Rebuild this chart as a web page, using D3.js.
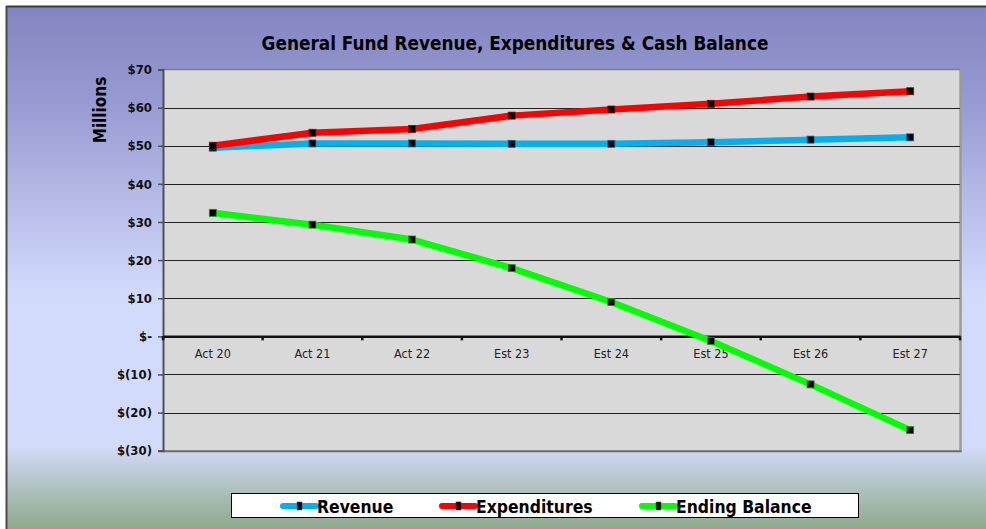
<!DOCTYPE html>
<html><head><meta charset="utf-8">
<script src="https://cdn.jsdelivr.net/npm/d3@7"></script>
<style>html,body{margin:0;padding:0;background:#fff;}svg{display:block;}</style>
</head><body>
<script>
const categories = ["Act 20","Act 21","Act 22","Est 23","Est 24","Est 25","Est 26","Est 27"];
const revenue = [49.5, 50.6, 50.6, 50.5, 50.5, 50.9, 51.6, 52.2];
const expenditures = [50.0, 53.4, 54.4, 57.9, 59.5, 61.0, 62.9, 64.3];
const endingBalance = [32.4, 29.3, 25.4, 17.9, 9.0, -1.2, -12.6, -24.6];
const yTicks = [70, 60, 50, 40, 30, 20, 10, 0, -10, -20, -30];
const seriesNames = ["Revenue", "Expenditures", "Ending Balance"];
const seriesColors = ["#00b0f0", "#ff0000", "#00ff00"];

(function(){
const W = 986, H = 529;
const font = "'DejaVu Sans Condensed', 'DejaVu Sans', sans-serif";
const svg = d3.select("body").append("svg").attr("width", W).attr("height", H);

const defs = svg.append("defs");
const grad = defs.append("linearGradient").attr("id","bg").attr("x1",0).attr("y1",0).attr("x2",0).attr("y2",1);
[[0,"#8385c1"],[0.18,"#9799d1"],[0.55,"#d2dafb"],[0.84,"#d3dbfb"],[1,"#8ea98b"]].forEach(s=>
  grad.append("stop").attr("offset",s[0]).attr("stop-color",s[1]));

svg.append("rect").attr("x",6).attr("y",6).attr("width",W-6).attr("height",H-6).attr("fill","url(#bg)");
svg.append("line").attr("x1",6).attr("x2",W).attr("y1",6.5).attr("y2",6.5).attr("stroke","#3a3a44").attr("stroke-width",2);
svg.append("line").attr("x1",6.5).attr("x2",6.5).attr("y1",6).attr("y2",H).attr("stroke","#4a4a50").attr("stroke-width",2);

const pL = 163, pR = 960, pT = 69.5, pB = 450.7;
const x = d3.scaleBand().domain(categories).range([pL, pR]);
const y = d3.scaleLinear().domain([-30, 70]).range([pB, pT]);

svg.append("rect").attr("x",pL).attr("y",pT).attr("width",pR-pL).attr("height",pB-pT).attr("fill","#d9d9d9");
svg.append("line").attr("x1",pL).attr("x2",pR).attr("y1",pT).attr("y2",pT).attr("stroke","#808080").attr("stroke-width",1.5);
svg.append("line").attr("x1",pR+0.5).attr("x2",pR+0.5).attr("y1",pT).attr("y2",pB+1).attr("stroke","#9a9a9a").attr("stroke-width",2.5);
svg.append("line").attr("x1",pL).attr("x2",pR+1.5).attr("y1",pB+0.5).attr("y2",pB+0.5).attr("stroke","#6a6a6a").attr("stroke-width",2);

svg.append("g").selectAll("line").data(yTicks.filter(d=>d!==70 && d!==0 && d!==-30)).join("line")
  .attr("x1",pL).attr("x2",pR).attr("y1",d=>Math.round(y(d))+0.5).attr("y2",d=>Math.round(y(d))+0.5)
  .attr("stroke","#222").attr("stroke-width",1);

const fmt = d => d === 0 ? "$-" : (d < 0 ? "$(" + Math.abs(d) + ")" : "$" + d);
const yAxis = d3.axisLeft(y).tickValues(yTicks).tickFormat(fmt).tickSize(5).tickPadding(6);
const yg = svg.append("g").attr("transform",`translate(${pL},0)`).call(yAxis);
yg.select(".domain").attr("stroke","#505050").attr("stroke-width",2);
yg.selectAll(".tick line").attr("stroke","#505050").attr("stroke-width",1.5);
yg.selectAll(".tick text").attr("font-family",font).attr("font-weight","bold").attr("font-size",13).attr("fill","#111");

const xAxis = d3.axisBottom(x).tickSize(0).tickPadding(13);
const xg = svg.append("g").attr("transform",`translate(0,${y(0)})`).call(xAxis);
xg.select(".domain").attr("stroke","#111").attr("stroke-width",2.5);
xg.selectAll(".tick text").attr("font-family",font).attr("font-size",12.5).attr("fill","#222");
const bounds = categories.map(c=>x(c)).concat([pR]);
xg.append("g").selectAll("line").data(bounds).join("line")
  .attr("x1",d=>d).attr("x2",d=>d).attr("y1",0).attr("y2",4).attr("stroke","#111").attr("stroke-width",2.5);

const allSeries = [revenue, expenditures, endingBalance];
const line = d3.line().x((d,i)=>x(categories[i]) + x.bandwidth()/2).y(d=>y(d));
allSeries.forEach((vals, si) => {
  svg.append("path").datum(vals).attr("d", line).attr("fill","none")
    .attr("stroke", seriesColors[si]).attr("stroke-width", 6.5).attr("stroke-linejoin","round");
});
allSeries.forEach((vals, si) => {
  svg.append("g").selectAll("rect").data(vals).join("rect")
    .attr("x",(d,i)=>x(categories[i]) + x.bandwidth()/2 - 3.5)
    .attr("y",d=>y(d)-3.5).attr("width",7).attr("height",7)
    .attr("fill","#000").attr("stroke",d3.color(seriesColors[si]).darker(1.2)).attr("stroke-width",0.8);
});

svg.append("text").attr("x",515).attr("y",49.5).attr("text-anchor","middle")
  .attr("font-family",font).attr("font-weight","bold").attr("font-size",18.8).attr("fill","#000")
  .text("General Fund Revenue, Expenditures & Cash Balance");

svg.append("text").attr("transform","translate(106,110) rotate(-90)").attr("text-anchor","middle")
  .attr("font-family",font).attr("font-weight","bold").attr("font-size",17).attr("fill","#000")
  .text("Millions");

svg.append("rect").attr("x",231.5).attr("y",493.5).attr("width",627).attr("height",24)
  .attr("fill","#fff").attr("stroke","#000").attr("stroke-width",1);
const legX = [283, 442, 642];
seriesNames.forEach((name, i) => {
  const g = svg.append("g").attr("transform",`translate(${legX[i]},506)`);
  g.append("line").attr("x1",0).attr("x2",33).attr("y1",0).attr("y2",0)
    .attr("stroke",seriesColors[i]).attr("stroke-width",6).attr("stroke-linecap","round");
  g.append("rect").attr("x",14).attr("y",-4).attr("width",5).attr("height",8).attr("fill","#000")
    .attr("stroke",d3.color(seriesColors[i]).darker(1.2)).attr("stroke-width",0.6);
  g.append("text").attr("x",34).attr("y",6.5).attr("font-family",font).attr("font-weight","bold")
    .attr("font-size",17.4).attr("fill","#000").text(name);
});
})();
</script>
</body></html>
